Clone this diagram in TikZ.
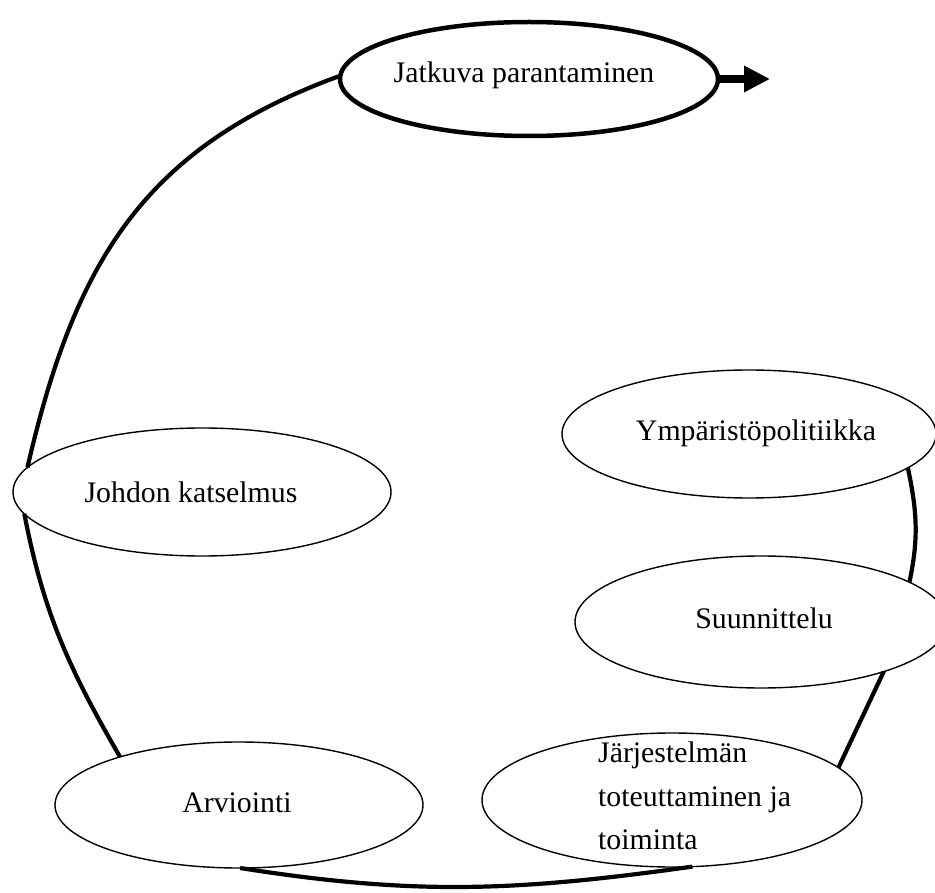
\documentclass[tikz,border=0pt]{standalone}
\usepackage{fontspec}
\setmainfont{Liberation Serif}
\usetikzlibrary{arrows.meta,shapes.geometric}
\begin{document}
\begin{tikzpicture}[x=1pt,y=1pt,
  oval/.style={ellipse,draw=black,line width=1.4pt,inner sep=0pt,outer sep=0pt},
  mainoval/.style={oval,line width=4.5pt},
  lbl/.style={font=\fontsize{29.8}{44}\selectfont,inner sep=0pt,anchor=base},
  lbll/.style={lbl,anchor=base west},
  loopline/.style={line width=4.2pt}]
\useasboundingbox (0,0) rectangle (935,-893);
% ellipses
\node[mainoval,minimum width=378pt,minimum height=114pt] (jp)  at (529,-79) {};
\node[oval,minimum width=374pt,minimum height=128pt]     (ymp) at (749,-434) {};
\node[oval,minimum width=372pt,minimum height=132pt]     (suu) at (761,-622) {};
\node[oval,minimum width=378pt,minimum height=128pt]     (jk)  at (202,-492) {};
\node[oval,minimum width=368pt,minimum height=126pt]     (arv) at (239,-805) {};
\node[oval,minimum width=380pt,minimum height=134pt]     (jt)  at (672,-800) {};
% labels
\node[lbl]  (tjp)  at (524,-83)  {Jatkuva parantaminen};
\node[lbl]  (tymp) at (756,-440) {Ympäristöpolitiikka};
\node[lbl]  (tsuu) at (764,-628) {Suunnittelu};
\node[lbl]  (tjk)  at (191,-502) {Johdon katselmus};
\node[lbl]  (tarv) at (237,-812) {Arviointi};
\node[lbll] (tjt1) at (598,-762) {Järjestelmän};
\node[lbll] (tjt2) at (598,-806) {toteuttaminen ja};
\node[lbll] (tjt3) at (598,-849) {toiminta};
% loop connectors
\draw[loopline] (jp.179) to[out=200,in=77,looseness=1.07] (jk.172);
\draw[loopline] (jk.187) to[out=281,in=120] (arv.158);
\draw[loopline] (arv.-89) to[out=-9,in=188] (jt.-73);
\draw[loopline] (jt.11) -- (suu.-22.5);
\draw[loopline] (suu.15) to[out=78,in=-78] (ymp.-12);
% outgoing arrow
\coordinate (tip) at (770,-79);
\draw[line width=8pt,-{Triangle[length=26pt,width=25pt]}] (jp.east) -- (tip);
\end{tikzpicture}
\end{document}
